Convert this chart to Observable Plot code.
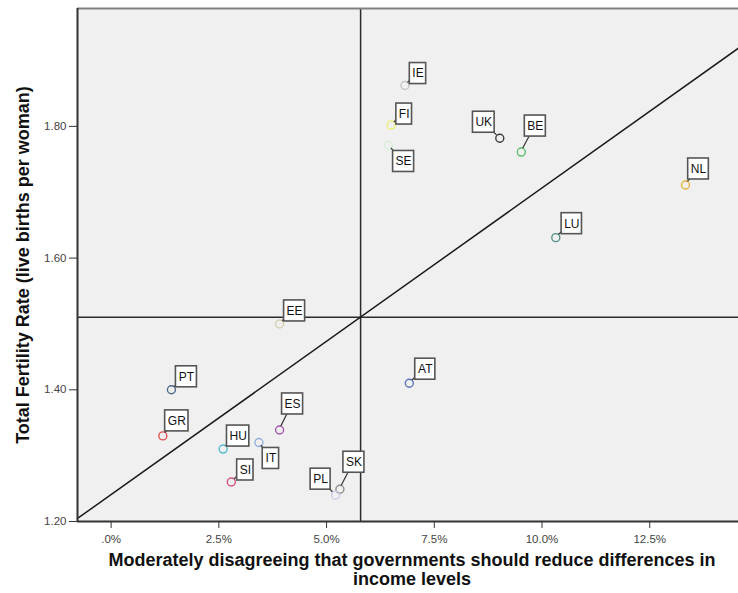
<!DOCTYPE html>
<html>
<head>
<meta charset="utf-8">
<script src="https://cdn.jsdelivr.net/npm/d3@7"></script>
<script src="https://cdn.jsdelivr.net/npm/@observablehq/plot@0.6"></script>
<style>
  html, body { margin: 0; padding: 0; background: #fff; }
</style>
</head>
<body>
<div id="chart"></div>
<script>
// ---- data ----
const countries = ["IE","FI","SE","UK","BE","LU","NL","EE","AT","ES","IT","SK","PL","SI","HU","PT","GR"];
const disagreePct = [6.82, 6.50, 6.44, 9.02, 9.52, 10.32, 13.33, 3.91, 6.92, 3.91, 3.43, 5.31, 5.21, 2.79, 2.60, 1.40, 1.20];
const fertility   = [1.862, 1.802, 1.771, 1.782, 1.761, 1.631, 1.711, 1.500, 1.410, 1.339, 1.320, 1.249, 1.240, 1.260, 1.310, 1.400, 1.330];
const pointColors = ["#c4c4c4","#eef07a","#d6eed6","#3a3a3a","#5cbf6c","#4f8f83","#e6b240","#d6d0b2","#5a72c0","#a256ac","#8fb0dc","#8c8c8c","#cfc8e6","#d8507a","#4fbfcf","#4d6b8c","#e05050"];
const labelDx = [13, 13, 15, -16, 14, 16, 13, 15, 16, 13, 12, 14, -15, 14, 15, 15, 14];
const labelDy = [-12, -11, 16, -16, -26, -14, -16, -13, -14, -26, 16, -27, -16, -12, -13, -13, -15];

const xTicks = [0, 2.5, 5.0, 7.5, 10.0, 12.5];
const yTicks = [1.20, 1.40, 1.60, 1.80];
const xDomain = [-0.78, 14.56];
const yDomain = [1.20, 1.979];
const meanX = 5.79;           // vertical reference line
const meanY = 1.51;           // horizontal reference line
const diagX = [-0.78, 14.56]; // diagonal reference line
const diagY = [1.2046, 1.9188];

const xTitle = "Moderately disagreeing that governments should reduce differences in\nincome levels";
const yTitle = "Total Fertility Rate (live births per woman)";

const data = countries.map((c, i) => ({c, x: disagreePct[i], y: fertility[i], color: pointColors[i], dx: labelDx[i], dy: labelDy[i]}));
const diag = diagX.map((x, i) => ({x, y: diagY[i]}));

const fontFamily = "'Liberation Sans', Arial, sans-serif";

const labelMarks = data.map(d => Plot.text([d], {
  x: "x", y: "y", text: "c", dx: d.dx, dy: d.dy,
  fontSize: 12, fill: "#111", textAnchor: "middle", lineAnchor: "middle"
}));

const plot = Plot.plot({
  width: 738,
  height: 593,
  marginLeft: 77,
  marginRight: 0,
  marginTop: 8,
  marginBottom: 72,
  style: {fontFamily, fontSize: "11px", background: "#fff", overflow: "visible"},
  x: {domain: xDomain, ticks: xTicks},
  y: {domain: yDomain, ticks: yTicks},
  marks: [
    Plot.frame({fill: "#f0f0f0", stroke: "none"}),
    Plot.ruleY([meanY], {stroke: "#2a2a2a", strokeWidth: 1.5}),
    Plot.ruleX([meanX], {stroke: "#2a2a2a", strokeWidth: 1.5}),
    Plot.line(diag, {x: "x", y: "y", stroke: "#1a1a1a", strokeWidth: 1.5}),
    Plot.ruleY([yDomain[1]], {stroke: "#808080", strokeWidth: 2}),
    Plot.ruleY([yDomain[0]], {stroke: "#333", strokeWidth: 2}),
    Plot.ruleX([xDomain[0]], {stroke: "#333", strokeWidth: 2}),
    Plot.axisX({ticks: xTicks, tickFormat: d => d === 0 ? ".0%" : d.toFixed(1) + "%", tickSize: 7, tickPadding: 6, label: null, stroke: "#333", color: "#444", fontSize: 11.5}),
    Plot.axisY({ticks: yTicks, tickFormat: d => d.toFixed(2), tickSize: 8, tickPadding: 3, label: null, stroke: "#333", color: "#444", fontSize: 11.5}),
    Plot.dot(data, {x: "x", y: "y", r: 4, stroke: "color", strokeWidth: 1.4, fill: "none"}),
    Plot.text([xTitle], {frameAnchor: "bottom", dy: 48, dx: 4, fontSize: 18, fontWeight: "bold", fill: "#111", lineHeight: 1.03, lineAnchor: "middle", textAnchor: "middle"}),
    Plot.text([yTitle], {frameAnchor: "left", rotate: -90, dx: -54, fontSize: 18, fontWeight: "bold", fill: "#111", textAnchor: "middle", lineAnchor: "middle"}),
    ...labelMarks
  ]
});

document.getElementById("chart").appendChild(plot);

// ---- label boxes and leader lines, positioned with Plot's own scales ----
const xs = plot.scale("x"), ys = plot.scale("y");
const textGroups = Array.from(plot.querySelectorAll('g[aria-label="text"]'));
const labelGroups = textGroups.slice(textGroups.length - data.length);
const deco = document.createElementNS("http://www.w3.org/2000/svg", "g");
plot.insertBefore(deco, labelGroups[0] || null);
const decoSel = d3.select(deco);
data.forEach((d, i) => {
  const px = xs.apply(d.x), py = ys.apply(d.y);
  const cx = px + d.dx, cy = py + d.dy;
  const len = Math.hypot(d.dx, d.dy);
  const sx = px + d.dx / len * 4, sy = py + d.dy / len * 4;
  const g = labelGroups[i];
  const t = g ? g.querySelector("text") : null;
  const w = t ? t.getBBox().width : 14;
  const bw = Math.max(w + 5, 15), bh = 21;
  decoSel.append("line")
    .attr("x1", sx).attr("y1", sy).attr("x2", cx).attr("y2", cy)
    .attr("stroke", "#333").attr("stroke-width", 1.2);
  decoSel.append("rect")
    .attr("x", cx - bw / 2).attr("y", cy - bh / 2)
    .attr("width", bw).attr("height", bh)
    .attr("fill", "#fff").attr("stroke", "#555").attr("stroke-width", 1.6);
});
</script>
</body>
</html>
